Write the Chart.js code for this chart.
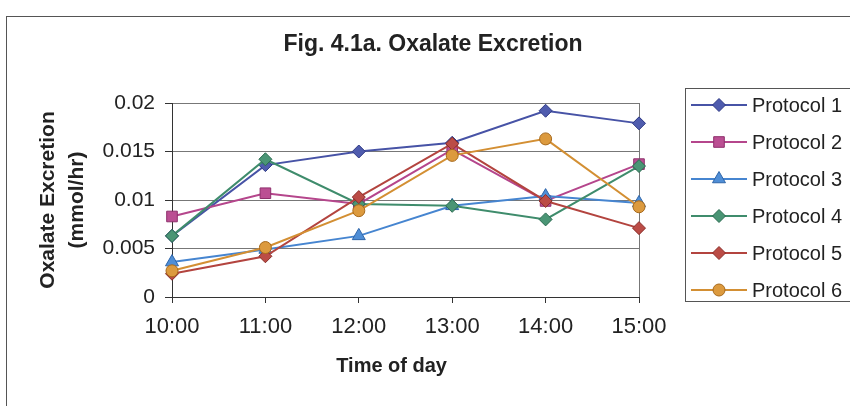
<!DOCTYPE html>
<html>
<head>
<meta charset="utf-8">
<script src="https://cdn.jsdelivr.net/npm/chart.js@4/dist/chart.umd.min.js"></script>
<style>
  html, body { margin: 0; padding: 0; background: #fff; }
  #wrap { width: 850px; height: 406px; position: relative; }
</style>
</head>
<body>
<div id="wrap"><canvas id="c" width="850" height="406"></canvas></div>
<script>
const chartTitle = 'Fig. 4.1a. Oxalate Excretion';
const xTitle = 'Time of day';
const yTitle = ['Oxalate Excretion', '(mmol/hr)'];
const timeLabels = ['10:00', '11:00', '12:00', '13:00', '14:00', '15:00'];
const seriesNames = ['Protocol 1', 'Protocol 2', 'Protocol 3', 'Protocol 4', 'Protocol 5', 'Protocol 6'];
const protocol1 = [0.0063, 0.0136, 0.0150, 0.0159, 0.0192, 0.0179];
const protocol2 = [0.0083, 0.0107, 0.0096, 0.0152, 0.0099, 0.0137];
const protocol3 = [0.0036, 0.0049, 0.0063, 0.0094, 0.0104, 0.0097];
const protocol4 = [0.0063, 0.0142, 0.0096, 0.0094, 0.0080, 0.0135];
const protocol5 = [0.0024, 0.0042, 0.0103, 0.0158, 0.0099, 0.0071];
const protocol6 = [0.0027, 0.0051, 0.0089, 0.0146, 0.0163, 0.0093];
const yMin = 0, yMax = 0.02, yStep = 0.005;

const seriesValues = [protocol1, protocol2, protocol3, protocol4, protocol5, protocol6];
const lineColors = ['#4753a6', '#b5468c', '#4685d0', '#3f8c6c', '#b3443f', '#d38f33'];
const fillColors = ['#4f5cae', '#bb4f93', '#4f8ed6', '#4a9575', '#bb4c46', '#dc9a3e'];
const edgeColors = ['#2f3a85', '#8e2f6c', '#2f66aa', '#2a6b50', '#8a2e2a', '#a86a1c'];
const markers = ['rectRot', 'rect', 'triangle', 'rectRot', 'rectRot', 'circle'];
const markerSizes = [6.5, 7.5, 7.5, 6.5, 6.5, 6];

const FONT = "'Liberation Sans', Arial, sans-serif";
const TXT = '#222';

const datasets = seriesNames.map((name, i) => ({
  label: name,
  data: seriesValues[i],
  borderColor: lineColors[i],
  backgroundColor: fillColors[i],
  pointBackgroundColor: fillColors[i],
  pointBorderColor: edgeColors[i],
  pointBorderWidth: 1,
  pointStyle: markers[i],
  pointRadius: markerSizes[i],
  borderWidth: 2,
  tension: 0,
  fill: false,
  order: seriesNames.length - i
}));

const framePlugin = {
  id: 'frame',
  beforeDraw(chart) {
    const ctx = chart.ctx;
    ctx.save();
    ctx.fillStyle = '#fff';
    ctx.fillRect(0, 0, chart.width, chart.height);
    ctx.strokeStyle = '#555';
    ctx.lineWidth = 1;
    ctx.strokeRect(6.5, 16.5, chart.width + 10, chart.height + 10);
    // chart title
    ctx.fillStyle = TXT;
    ctx.font = 'bold 23px ' + FONT;
    ctx.textAlign = 'center';
    ctx.textBaseline = 'middle';
    ctx.fillText(chartTitle, chart.width / 2 + 8, 45);
    ctx.restore();
  },
  beforeDatasetsDraw(chart) {
    const a = chart.chartArea;
    const ctx = chart.ctx;
    ctx.save();
    ctx.strokeStyle = '#777';
    ctx.lineWidth = 1;
    ctx.beginPath();
    ctx.moveTo(Math.round(a.right) + 0.5, a.top);
    ctx.lineTo(Math.round(a.right) + 0.5, a.bottom);
    ctx.stroke();
    ctx.restore();
  }
};

const legendPlugin = {
  id: 'customLegend',
  afterDraw(chart) {
    const a = chart.chartArea;
    const ctx = chart.ctx;
    const left = a.right + 46, top = a.top - 15, w = 200, h = 213;
    ctx.save();
    ctx.strokeStyle = '#555';
    ctx.lineWidth = 1;
    ctx.strokeRect(Math.round(left) + 0.5, Math.round(top) + 0.5, w, h);
    const step = 37;
    chart.data.datasets.forEach((ds, i) => {
      const y = top + 17 + i * step;
      const x0 = left + 6, x1 = left + 62;
      ctx.strokeStyle = ds.borderColor;
      ctx.lineWidth = 2;
      ctx.beginPath();
      ctx.moveTo(x0, y);
      ctx.lineTo(x1, y);
      ctx.stroke();
      ctx.fillStyle = ds.pointBackgroundColor;
      ctx.strokeStyle = ds.pointBorderColor;
      ctx.lineWidth = 1;
      Chart.helpers.drawPoint(ctx, {
        pointStyle: ds.pointStyle,
        radius: ds.pointRadius,
        rotation: 0,
        borderWidth: 1
      }, (x0 + x1) / 2, y);
      ctx.fillStyle = TXT;
      ctx.font = '20px ' + FONT;
      ctx.textAlign = 'left';
      ctx.textBaseline = 'middle';
      ctx.fillText(ds.label, x1 + 5, y + 1);
    });
    ctx.restore();
  }
};

new Chart(document.getElementById('c'), {
  type: 'line',
  data: { labels: timeLabels, datasets },
  plugins: [framePlugin, legendPlugin],
  options: {
    responsive: false,
    animation: false,
    devicePixelRatio: 1,
    layout: { padding: { left: 0, right: 211, top: 103, bottom: 0 } },
    plugins: {
      legend: { display: false },
      tooltip: { enabled: false },
      title: { display: false }
    },
    scales: {
      x: {
        type: 'category',
        offset: false,
        afterFit(scale) { scale.height = 109; },
        grid: { display: true, drawOnChartArea: false, drawTicks: true, tickLength: 6, tickColor: '#333', color: '#333' },
        border: { display: true, color: '#333', width: 1 },
        ticks: { color: TXT, font: { family: FONT, size: 22 }, padding: 11, maxRotation: 0, autoSkip: false },
        title: {
          display: true,
          text: xTitle + '     ',
          color: TXT,
          font: { family: FONT, size: 20, weight: 'bold', lineHeight: 1.2 },
          padding: { top: 0, bottom: 28 }
        }
      },
      y: {
        min: yMin,
        max: yMax,
        afterFit(scale) { scale.width = 172; },
        grid: { color: '#777', lineWidth: 1, drawTicks: true, tickLength: 7, tickColor: '#333' },
        border: { display: true, color: '#333', width: 1 },
        ticks: {
          stepSize: yStep,
          color: TXT,
          font: { family: FONT, size: 21 },
          padding: 10,
          callback: (v) => String(Number(v.toFixed(3)))
        },
        title: {
          display: true,
          text: yTitle,
          color: TXT,
          font: { family: FONT, size: 21, weight: 'bold', lineHeight: 1.38 },
          padding: { top: 33.5, bottom: 0 }
        }
      }
    }
  }
});
</script>
</body>
</html>
